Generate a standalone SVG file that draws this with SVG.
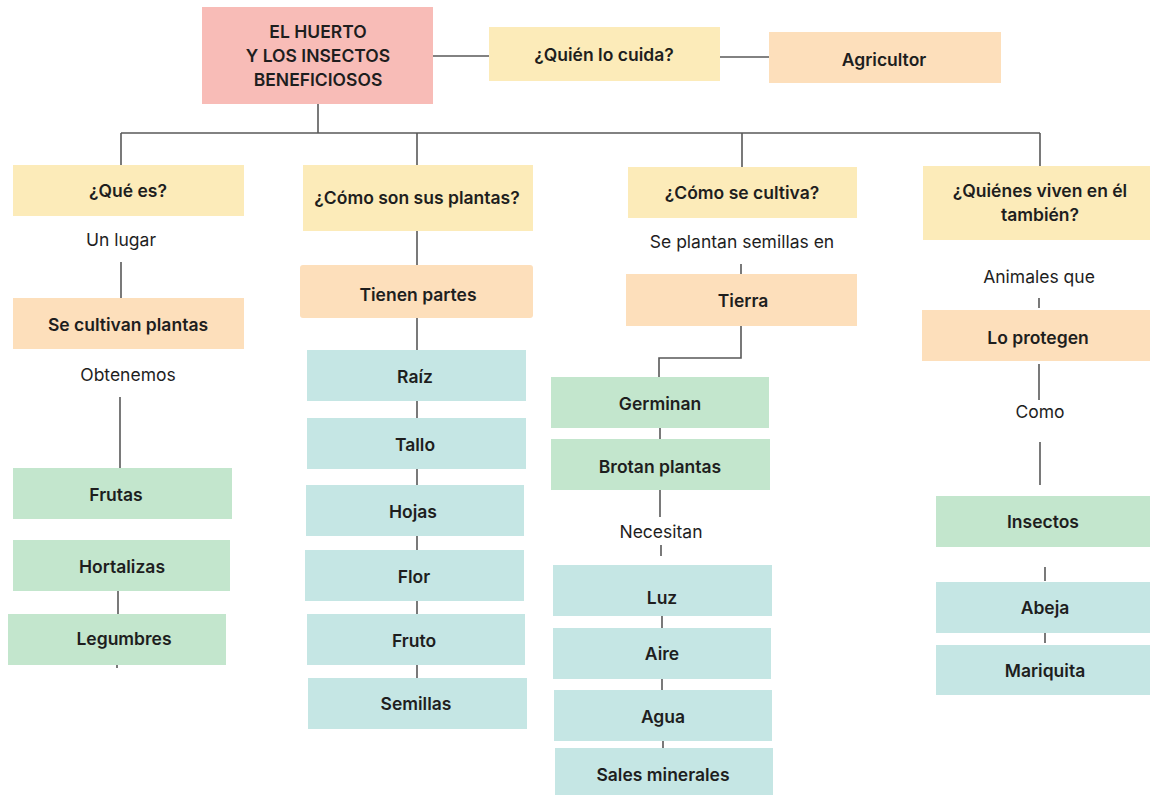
<svg xmlns="http://www.w3.org/2000/svg" width="1150" height="795" viewBox="0 0 1150 795">
<style>
.pink{fill:#f8bcb7}
.yel{fill:#fcebb9}
.pea{fill:#fddfbb}
.grn{fill:#c3e6cd}
.blu{fill:#c5e6e4}
text{font-family:Inter,"Noto Sans",sans-serif;font-size:17.5px;fill:#1e1e1e;text-anchor:middle;dominant-baseline:central}
.b{font-weight:600}
.c line,.c path{stroke:#585858;stroke-width:1.6;fill:none}
</style>
<rect width="1150" height="795" fill="#ffffff"/>
<g class="c" id="connectors">
<line x1="433" y1="56" x2="489" y2="56"/>
<line x1="720" y1="57" x2="769" y2="57"/>
<line x1="318" y1="104" x2="318" y2="133"/>
<line x1="121" y1="133" x2="1040" y2="133"/>
<line x1="121" y1="133" x2="121" y2="165"/>
<line x1="417" y1="133" x2="417" y2="165"/>
<line x1="742" y1="133" x2="742" y2="167"/>
<line x1="1040" y1="133" x2="1040" y2="166"/>
<line x1="121" y1="262" x2="121" y2="298"/>
<line x1="120" y1="397" x2="120" y2="468"/>
<line x1="118" y1="591" x2="118" y2="614"/>
<line x1="117" y1="665" x2="117" y2="668"/>
<line x1="417" y1="231" x2="417" y2="265"/>
<line x1="417" y1="318" x2="417" y2="350"/>
<line x1="417" y1="401" x2="417" y2="418"/>
<line x1="417" y1="469" x2="417" y2="485"/>
<line x1="417" y1="536" x2="417" y2="550"/>
<line x1="417" y1="601" x2="417" y2="614"/>
<line x1="417" y1="665" x2="417" y2="678"/>
<line x1="741" y1="264" x2="741" y2="274"/>
<path d="M741 326 V358 H659 V377"/>
<line x1="660" y1="428" x2="660" y2="439"/>
<line x1="660" y1="490" x2="660" y2="517"/>
<line x1="661" y1="545" x2="661" y2="556"/>
<line x1="662" y1="616" x2="662" y2="628"/>
<line x1="662" y1="679" x2="662" y2="690"/>
<line x1="663" y1="741" x2="663" y2="748"/>
<line x1="1039" y1="298" x2="1039" y2="308"/>
<line x1="1039" y1="364" x2="1039" y2="400"/>
<line x1="1040" y1="442" x2="1040" y2="485"/>
<line x1="1045" y1="567" x2="1045" y2="581"/>
<line x1="1045" y1="633" x2="1045" y2="643"/>
</g>
<g id="main"><rect class="pink" x="202" y="7" width="231" height="97"/><text class="b" x="318" y="31">EL HUERTO</text><text class="b" x="318" y="55">Y LOS INSECTOS</text><text class="b" x="318" y="79">BENEFICIOSOS</text></g>
<g id="quien"><rect class="yel" x="489" y="27" width="231" height="54"/><text class="b" x="604" y="54">¿Quién lo cuida?</text></g>
<g id="agricultor"><rect class="pea" x="769" y="32" width="232" height="51"/><text class="b" x="884" y="59">Agricultor</text></g>
<g id="quees"><rect class="yel" x="13" y="165" width="231" height="51"/><text class="b" x="128" y="190">¿Qué es?</text></g>
<g id="comoson"><rect class="yel" x="303" y="165" width="230" height="66"/><text class="b" x="417" y="197">¿Cómo son sus plantas?</text></g>
<g id="comocultiva"><rect class="yel" x="628" y="167" width="229" height="51"/><text class="b" x="742" y="192">¿Cómo se cultiva?</text></g>
<g id="quienes"><rect class="yel" x="923" y="166" width="227" height="74"/><text class="b" x="1040" y="190">¿Quiénes viven en él</text><text class="b" x="1040" y="214">también?</text></g>
<g id="unlugar"><text x="121" y="239">Un lugar</text></g>
<g id="secultivan"><rect class="pea" x="13" y="298" width="231" height="51"/><text class="b" x="128" y="324">Se cultivan plantas</text></g>
<g id="obtenemos"><text x="128" y="374">Obtenemos</text></g>
<g id="frutas"><rect class="grn" x="13" y="468" width="219" height="51"/><text class="b" x="116" y="494">Frutas</text></g>
<g id="hortalizas"><rect class="grn" x="13" y="540" width="217" height="51"/><text class="b" x="122" y="566">Hortalizas</text></g>
<g id="legumbres"><rect class="grn" x="8" y="614" width="218" height="51"/><text class="b" x="124" y="638">Legumbres</text></g>
<g id="tienen"><rect class="pea" x="300" y="265" width="233" height="53" rx="3"/><text class="b" x="418" y="294">Tienen partes</text></g>
<g id="raiz"><rect class="blu" x="307" y="350" width="219" height="51"/><text class="b" x="415" y="376">Raíz</text></g>
<g id="tallo"><rect class="blu" x="307" y="418" width="219" height="51"/><text class="b" x="415" y="444">Tallo</text></g>
<g id="hojas"><rect class="blu" x="306" y="485" width="218" height="51"/><text class="b" x="413" y="511">Hojas</text></g>
<g id="flor"><rect class="blu" x="305" y="550" width="219" height="51"/><text class="b" x="414" y="576">Flor</text></g>
<g id="fruto"><rect class="blu" x="307" y="614" width="218" height="51"/><text class="b" x="414" y="640">Fruto</text></g>
<g id="semillas"><rect class="blu" x="308" y="678" width="219" height="51"/><text class="b" x="416" y="703">Semillas</text></g>
<g id="seplantan"><text x="742" y="241">Se plantan semillas en</text></g>
<g id="tierra"><rect class="pea" x="626" y="274" width="231" height="52"/><text class="b" x="743" y="300">Tierra</text></g>
<g id="germinan"><rect class="grn" x="551" y="377" width="218" height="51"/><text class="b" x="660" y="403">Germinan</text></g>
<g id="brotan"><rect class="grn" x="551" y="439" width="219" height="51"/><text class="b" x="660" y="466">Brotan plantas</text></g>
<g id="necesitan"><text x="661" y="531">Necesitan</text></g>
<g id="luz"><rect class="blu" x="553" y="565" width="219" height="51"/><text class="b" x="662" y="597">Luz</text></g>
<g id="aire"><rect class="blu" x="553" y="628" width="218" height="51"/><text class="b" x="662" y="653">Aire</text></g>
<g id="agua"><rect class="blu" x="554" y="690" width="218" height="51"/><text class="b" x="663" y="716">Agua</text></g>
<g id="sales"><rect class="blu" x="555" y="748" width="218" height="47"/><text class="b" x="663" y="774">Sales minerales</text></g>
<g id="animales"><text x="1039" y="276">Animales que</text></g>
<g id="loprotegen"><rect class="pea" x="922" y="310" width="228" height="51"/><text class="b" x="1038" y="337">Lo protegen</text></g>
<g id="como"><text x="1040" y="411">Como</text></g>
<g id="insectos"><rect class="grn" x="936" y="496" width="214" height="51"/><text class="b" x="1043" y="521">Insectos</text></g>
<g id="abeja"><rect class="blu" x="936" y="582" width="214" height="51"/><text class="b" x="1045" y="607">Abeja</text></g>
<g id="mariquita"><rect class="blu" x="936" y="645" width="214" height="50"/><text class="b" x="1045" y="670">Mariquita</text></g>
</svg>
